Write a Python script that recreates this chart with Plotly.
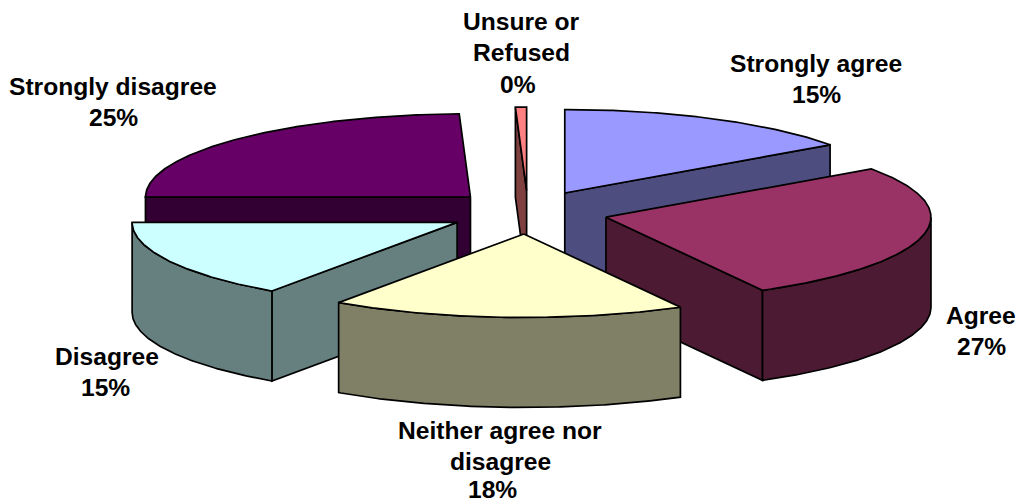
import numpy as np
import plotly.graph_objects as go

# Data, clockwise from 12 o'clock
categories = ["Strongly agree", "Agree", "Neither agree nor disagree",
              "Disagree", "Strongly disagree", "Unsure or Refused"]
values = [15.2, 26.8, 17.65, 15.35, 24.45, 0.55]
percent_labels = ["15%", "27%", "18%", "15%", "25%", "0%"]
top_colors = ["#9999FF", "#993366", "#FFFFCC", "#CCFFFF", "#660066", "#FF8080"]
wall_colors = ["#4D4D80", "#4D1A33", "#808066", "#668080", "#330033", "#804040"]

# Label text lines and their anchor positions
label_lines = [["Strongly agree"], ["Agree"], ["Neither agree nor", "disagree"],
               ["Disagree"], ["Strongly disagree"], ["Unsure or", "Refused"]]
label_x = [816, 981, 500, 107, 113, 521]
label_y = [63, 315, 430, 356, 86, 21]
pct_x = [816, 981, 492, 105, 113, 518]
line_gap = 31.5
BOTTOM_LIMIT = 489.5

# Projection of the pie
CX, CY = 528.0, 212.3
RX, RY = 325.0, 83.5
EXPL_X, EXPL_Y = 80.0, 21.7
DEPTH = 90.0
PAINT_ORDER = [5, 4, 0, 3, 1, 2]

vals = np.array(values)
edges = np.concatenate([[0.0], np.cumsum(vals) / vals.sum() * 360.0])


def rim(t, ax, ay, dz=0.0):
    r = np.radians(t)
    return ax + RX * np.sin(r), ay - RY * np.cos(r) + dz


def angles(t1, t2):
    return np.linspace(t1, t2, max(2, int((t2 - t1) * 2) + 2))


fig = go.Figure()


def poly(xs, ys, color):
    fig.add_trace(go.Scatter(
        x=list(xs) + [xs[0]], y=list(ys) + [ys[0]], mode="lines", fill="toself",
        fillcolor=color, line=dict(color="#000000", width=1.7),
        hoverinfo="skip", showlegend=False))


for i in PAINT_ORDER:
    t1, t2 = edges[i], edges[i + 1]
    mid = np.radians((t1 + t2) / 2)
    ax = CX + EXPL_X * np.sin(mid)
    ay = CY - EXPL_Y * np.cos(mid)
    wall, top = wall_colors[i], top_colors[i]
    # radial faces that look toward the viewer
    if np.sin(np.radians(t1)) < -1e-6:
        x1, y1 = rim(t1, ax, ay)
        poly([ax, x1, x1, ax], [ay, y1, y1 + DEPTH, ay + DEPTH], wall)
    if np.sin(np.radians(t2)) > 1e-6:
        x2, y2 = rim(t2, ax, ay)
        poly([ax, x2, x2, ax], [ay, y2, y2 + DEPTH, ay + DEPTH], wall)
    # outer curved wall, front half only
    lo, hi = max(t1, 90.0), min(t2, 270.0)
    if hi > lo:
        a = angles(lo, hi)
        xu, yu = rim(a, ax, ay)
        xd, yd = rim(a[::-1], ax, ay, DEPTH)
        poly(np.concatenate([xu, xd]), np.concatenate([yu, yd]), wall)
    # top face
    a = angles(t1, t2)
    xt, yt = rim(a, ax, ay)
    poly(np.concatenate([[ax], xt]), np.concatenate([[ay], yt]), top)

annotations = []
for i in range(len(categories)):
    lines = label_lines[i]
    for j, line in enumerate(lines):
        annotations.append(dict(x=label_x[i], y=label_y[i] + j * line_gap, text=line))
    annotations.append(dict(x=pct_x[i],
                            y=min(label_y[i] + len(lines) * line_gap, BOTTOM_LIMIT),
                            text=percent_labels[i]))
for an in annotations:
    an.update(xref="x", yref="y", showarrow=False, xanchor="center", yanchor="middle",
              font=dict(family="Liberation Sans", size=24.6, color="#000000"))
    an["text"] = "<b>" + an["text"] + "</b>"

fig.update_layout(
    width=1018, height=504, margin=dict(l=0, r=0, t=0, b=0),
    paper_bgcolor="#FFFFFF", plot_bgcolor="#FFFFFF", showlegend=False,
    annotations=annotations,
    xaxis=dict(range=[0, 1018], visible=False, fixedrange=True),
    yaxis=dict(range=[504, 0], visible=False, fixedrange=True),
)
fig.write_html(
    "out.html",
    config={"displayModeBar": False},
    post_script="document.body.style.margin='0';document.documentElement.style.overflow='hidden';",
)
